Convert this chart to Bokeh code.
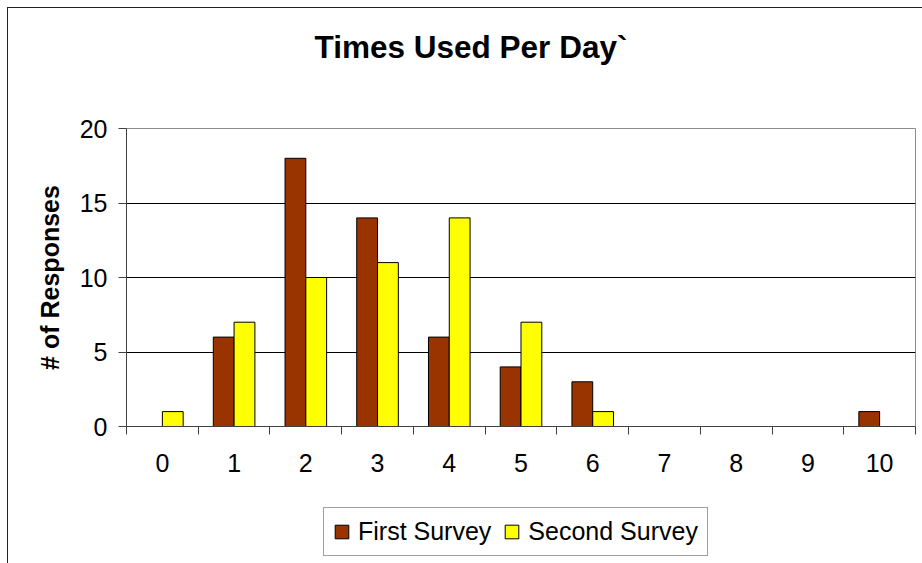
from bokeh.plotting import figure
from bokeh.layouts import column
from bokeh.models import ColumnDataSource, Range1d, FixedTicker, Legend, LegendItem
from bokeh.core.properties import value
from bokeh.transform import dodge
from bokeh.embed import file_html
from bokeh.resources import INLINE

# Times used per day (0..10) and number of responses in each survey
times = [0, 1, 2, 3, 4, 5, 6, 7, 8, 9, 10]
first_survey = [0, 6, 18, 14, 6, 4, 3, 0, 0, 0, 1]
second_survey = [1, 7, 10, 11, 14, 7, 1, 0, 0, 0, 0]
y_ticks = [0, 5, 10, 15, 20]
series_names = ["First Survey", "Second Survey"]
series_colors = ["#993300", "#FFFF00"]
title_text = "Times Used Per Day`"

FONT = "Liberation Sans"
AXIS_GREY = "#404040"
W = 914
LEFT, RIGHT = 118, 7          # border widths shared by all three strips


def bare_figure(height):
    # strip whose x/y ranges are plain pixel positions (x measured from the page's left edge)
    f = figure(width=W, height=height, x_range=Range1d(LEFT, W - RIGHT), y_range=Range1d(0, height),
               output_backend="svg", toolbar_location=None, tools="",
               min_border_left=LEFT, min_border_right=RIGHT,
               min_border_top=0, min_border_bottom=0)
    f.axis.visible = False
    f.grid.grid_line_color = None
    f.outline_line_color = None
    f.background_fill_color = "white"
    f.border_fill_color = "white"
    return f


# --- title strip ---
head = bare_figure(100)
head.text(x=[462.5], y=[62], text=[title_text], text_font=value(FONT),
          text_font_size="31.5px", text_font_style="bold", text_color="black",
          text_align="center", text_baseline="middle")

# --- bar chart ---
src = ColumnDataSource(dict(x=times, first=first_survey, second=second_survey))

p = figure(
    width=W, height=392,
    x_range=Range1d(-0.5, 10.5), y_range=Range1d(0, 20),
    output_backend="svg", toolbar_location=None, tools="",
    min_border_left=LEFT, min_border_right=RIGHT,
    min_border_top=20, min_border_bottom=74,
)
p.background_fill_color = "white"
p.border_fill_color = "white"
p.outline_line_color = "#8c8c8c"
p.outline_line_width = 1

bar_w = 0.29
p.vbar(x=dodge("x", -bar_w / 2, range=p.x_range), top="first", width=bar_w, source=src,
       fill_color=series_colors[0], line_color="black", line_width=1)
p.vbar(x=dodge("x", bar_w / 2, range=p.x_range), top="second", width=bar_w, source=src,
       fill_color=series_colors[1], line_color="black", line_width=1)

# x axis: labels under each category, tick marks between categories
xa = p.xaxis[0]
xa.ticker = FixedTicker(ticks=times, minor_ticks=[t - 0.5 for t in times] + [times[-1] + 0.5])
xa.major_tick_line_color = None
xa.major_tick_out = 8
xa.major_tick_in = 0
xa.minor_tick_out = 8
xa.minor_tick_in = 0
xa.minor_tick_line_color = AXIS_GREY
xa.axis_line_color = AXIS_GREY
xa.major_label_standoff = 19
xa.major_label_text_font = FONT
xa.major_label_text_font_size = "25px"
xa.major_label_text_color = "black"

ya = p.yaxis[0]
ya.ticker = FixedTicker(ticks=y_ticks)
ya.minor_tick_line_color = None
ya.major_tick_out = 8
ya.major_tick_in = 0
ya.major_tick_line_color = AXIS_GREY
ya.axis_line_color = AXIS_GREY
ya.major_label_standoff = 11
ya.major_label_text_font = FONT
ya.major_label_text_font_size = "25px"
ya.major_label_text_color = "black"
ya.axis_label = "# of Responses"
ya.axis_label_text_font = FONT
ya.axis_label_text_font_size = "25px"
ya.axis_label_text_font_style = "bold"
ya.axis_label_text_color = "black"
ya.axis_label_standoff = 13

p.xgrid.grid_line_color = None
p.ygrid.ticker = FixedTicker(ticks=[5, 10, 15])
p.ygrid.grid_line_color = "black"
p.ygrid.grid_line_width = 1

# --- legend strip ---
foot = bare_figure(63)
# swatch renderers: one bar each, well outside the strip's visible ranges so only the legend shows them
swatches = [foot.vbar(x=[-1000], bottom=[-200], top=[-100], width=1,
                      fill_color=c, line_color="black", line_width=1)
            for c in series_colors]
lg = Legend(
    items=[LegendItem(label=n, renderers=[r]) for n, r in zip(series_names, swatches)],
    orientation="horizontal", location=(197, 7),
    border_line_color=AXIS_GREY, border_line_width=1,
    background_fill_color="white", background_fill_alpha=1,
    glyph_width=17, glyph_height=17, label_standoff=8, spacing=12,
    padding=9, margin=0,
    label_text_font=FONT, label_text_font_size="25px", label_text_color="black",
)
foot.add_layout(lg, "center")

page = column(head, p, foot, spacing=0)
# chart area frame: only the top and left edges fall inside the page
page.styles = {
    "margin-left": "7px", "margin-top": "7px",
    "border-left": "1px solid #222222", "border-top": "1px solid #222222",
}

open("out.html", "w").write(file_html(page, INLINE))
